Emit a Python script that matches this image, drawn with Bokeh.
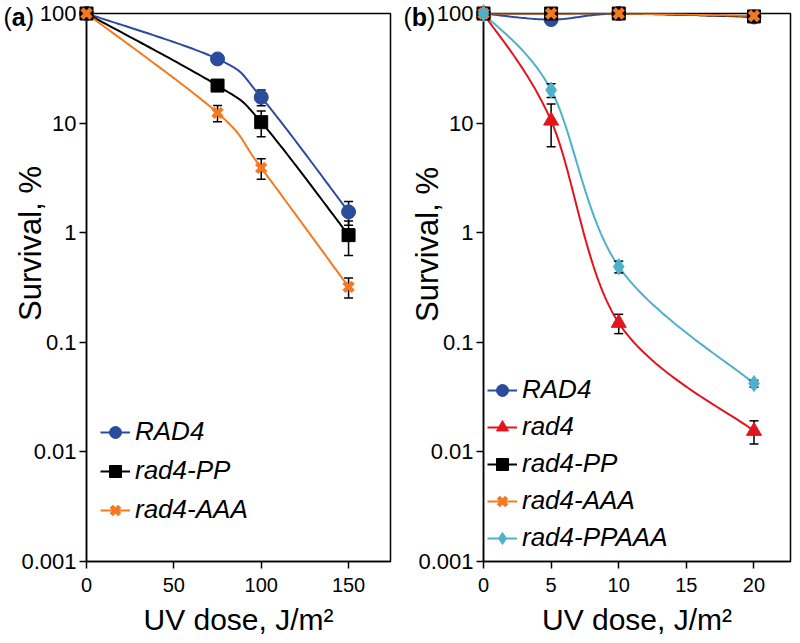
import numpy as np
from bokeh.plotting import figure
from bokeh.layouts import row
from bokeh.models import (Range1d, FixedTicker, CustomJSTickFormatter, Whisker, TeeHead,
                          ColumnDataSource, Legend, LegendItem)
from bokeh.core.properties import value
from bokeh.embed import file_html
from bokeh.resources import INLINE

FONT = "Liberation Sans"

# ---------------- data: panel (a) ----------------
dose_a = [0, 75, 100, 150]
a_RAD4 = [100, 38.5, 17.2, 1.55]
a_RAD4_err = [0, 3.0, 2.8, 0.38]
a_PP = [100, 22.0, 10.2, 0.95]
a_PP_err = [0, 2.5, 2.7, 0.33]
a_AAA = [100, 12.4, 3.9, 0.32]
a_AAA_err = [0, 2.1, 0.82, 0.067]

# ---------------- data: panel (b) ----------------
dose_b = [0, 5, 10, 20]
b_RAD4 = [100, 88, 100, 93]
b_RAD4_err = [0, 0, 0, 0]
b_rad4 = [100, 10.5, 0.15, 0.0155]
b_rad4_err = [0, 4.4, 0.03, 0.0037]
b_PP = [100, 100, 100, 94]
b_PP_err = [0, 0, 0, 0]
b_AAA = [100, 100, 100, 95]
b_AAA_err = [0, 0, 0, 0]
b_PPAAA = [100, 20.0, 0.49, 0.042]
b_PPAAA_err = [0, 2.9, 0.06, 0.003]

y_ticks = [0.001, 0.01, 0.1, 1, 10, 100]
x_ticks_a = [0, 50, 100, 150]
x_ticks_b = [0, 5, 10, 15, 20]

BLUE = "#2B4C9B"
RED = "#E3141E"
BLACK = "#000000"
ORANGE = "#F47A20"
CYAN = "#4FB0CC"

FRAME_H = 548


def smooth(xs, ys, kx, ky, n=40):
    """Excel-like smoothed line (Catmull-Rom Bezier) in screen-proportional space."""
    px = np.asarray(xs, float) * kx
    py = np.log10(np.asarray(ys, float)) * ky
    m = len(px)
    ox, oy = [], []
    for i in range(m - 1):
        i0, i3 = max(i - 1, 0), min(i + 2, m - 1)
        p1 = np.array([px[i], py[i]])
        p2 = np.array([px[i + 1], py[i + 1]])
        p0 = np.array([px[i0], py[i0]])
        p3 = np.array([px[i3], py[i3]])
        c1 = p1 + (p2 - p0) / 6.0
        c2 = p2 - (p3 - p1) / 6.0
        t = np.linspace(0, 1, n, endpoint=(i == m - 2))
        b = ((1 - t) ** 3)[:, None] * p1 + (3 * (1 - t) ** 2 * t)[:, None] * c1 \
            + (3 * (1 - t) * t ** 2)[:, None] * c2 + (t ** 3)[:, None] * p2
        ox.extend(b[:, 0])
        oy.extend(b[:, 1])
    return list(np.array(ox) / kx), list(10 ** (np.array(oy) / ky))


def add_text(p, txt, dx, dy, size, style="normal", angle=0.0, align="left"):
    # text anchored at the frame's top-left corner, shifted in screen pixels
    p.text(x=[0], y=[100], text=[txt], x_offset=dx, y_offset=dy, angle=angle,
           text_align=align, text_baseline="middle", text_font=value(FONT),
           text_font_size=value(size), text_font_style=style, text_color="black",
           level="overlay")


def make_panel(letter, letter_w, doses, series, xmax, xticks, frame_w, left_b, right_b,
               leg_loc, leg_glyph_w, leg_spacing, ylab_dx, ylab_dy, letter_dx):
    p = figure(width=left_b + frame_w + right_b, height=643,
               x_range=Range1d(0, xmax), y_range=Range1d(0.001, 100),
               y_axis_type="log", output_backend="svg", toolbar_location=None,
               min_border_left=left_b, min_border_right=right_b,
               min_border_top=13, min_border_bottom=643 - 13 - FRAME_H)
    p.grid.visible = False
    p.outline_line_color = "black"
    p.outline_line_width = 1.5
    p.background_fill_color = "white"
    p.border_fill_color = "white"

    kx = frame_w / xmax
    ky = FRAME_H / 5.0
    items = []
    for name, ys, errs, color, marker, size, lw in series:
        sx, sy = smooth(doses, ys, kx, ky)
        lr = p.line(sx, sy, line_color=color, line_width=2)
        idx = [i for i, e in enumerate(errs) if e > 0]
        if idx:
            src = ColumnDataSource(dict(
                x=[doses[i] for i in idx],
                upper=[ys[i] + errs[i] for i in idx],
                lower=[ys[i] - errs[i] for i in idx]))
            w = Whisker(base="x", upper="upper", lower="lower", source=src,
                        dimension="height", line_color="black", line_width=1.5,
                        upper_head=TeeHead(size=9, line_width=1.5, line_color="black"),
                        lower_head=TeeHead(size=9, line_width=1.5, line_color="black"),
                        level="glyph")
            p.add_layout(w)
        if marker == "x":
            sr = p.scatter(doses, ys, marker="x", size=size, line_color=color,
                           line_width=lw, level="overlay")
        else:
            sr = p.scatter(doses, ys, marker=marker, size=size, fill_color=color,
                           line_color=color, line_width=1, level="overlay")
        items.append(LegendItem(label=name, renderers=[lr, sr]))

    leg = Legend(items=items, location=leg_loc, orientation="vertical")
    leg.label_text_font = FONT
    leg.label_text_font_style = "italic"
    leg.label_text_font_size = "26px"
    leg.label_text_color = "black"
    leg.glyph_width = leg_glyph_w
    leg.glyph_height = 30
    leg.label_height = 30
    leg.spacing = leg_spacing
    leg.padding = 0
    leg.margin = 0
    leg.label_standoff = 5
    leg.border_line_alpha = 0
    leg.background_fill_alpha = 0
    p.add_layout(leg)

    # axes
    for ax in (p.xaxis[0], p.yaxis[0]):
        ax.axis_line_color = "black"
        ax.axis_line_width = 1.5
        ax.major_tick_line_color = "black"
        ax.major_tick_line_width = 1.5
        ax.major_tick_in = 0
        ax.major_tick_out = 7
        ax.minor_tick_line_color = None
        ax.major_label_text_font = FONT
        ax.major_label_text_color = "black"
    p.yaxis[0].major_label_text_font_size = "22px"
    p.yaxis[0].major_label_standoff = 3
    p.xaxis[0].major_label_text_font_size = "20px"
    p.xaxis[0].major_label_standoff = 9
    p.yaxis[0].ticker = FixedTicker(ticks=y_ticks)
    p.yaxis[0].formatter = CustomJSTickFormatter(code="return tick.toString();")
    p.xaxis[0].ticker = FixedTicker(ticks=xticks)
    p.xaxis[0].axis_label = "UV dose, J/m\u00b2"
    p.xaxis[0].axis_label_text_font = FONT
    p.xaxis[0].axis_label_text_font_style = "normal"
    p.xaxis[0].axis_label_text_font_size = "30px"
    p.xaxis[0].axis_label_text_color = "black"
    p.xaxis[0].axis_label_standoff = 8

    # y-axis title, placed above the frame centre as in the original
    add_text(p, "Survival, %", ylab_dx, ylab_dy, "31px", angle=np.pi / 2, align="center")

    # panel letter "(a)" with a bold letter
    add_text(p, "(", letter_dx, 3, "25px")
    add_text(p, letter, letter_dx + 8.3, 3, "25px", style="bold")
    add_text(p, ")", letter_dx + 8.3 + letter_w, 3, "25px")
    return p


series_a = [
    ("RAD4", a_RAD4, a_RAD4_err, BLUE, "circle", 14, 1),
    ("rad4-PP", a_PP, a_PP_err, BLACK, "square", 13, 1),
    ("rad4-AAA", a_AAA, a_AAA_err, ORANGE, "x", 13, 4.5),
]
series_b = [
    ("RAD4", b_RAD4, b_RAD4_err, BLUE, "circle", 14, 1),
    ("rad4", b_rad4, b_rad4_err, RED, "triangle", 15, 1),
    ("rad4-PP", b_PP, b_PP_err, BLACK, "square", 13, 1),
    ("rad4-AAA", b_AAA, b_AAA_err, ORANGE, "x", 13, 4.5),
    ("rad4-PPAAA", b_PPAAA, b_PPAAA_err, CYAN, "diamond", 16, 1),
]

pa = make_panel("a", 13.9, dose_a, series_a, 174, x_ticks_a, 304, 86, 10,
                (14, 36), 30, 8, -56.5, 230, -83)
pb = make_panel("b", 15.3, dose_b, series_b, 22.7, x_ticks_b, 307, 83, 10,
                (4, 8), 30, 6, -56, 231, -80)

layout = row(pa, pb)
open("out.html", "w").write(file_html(layout, INLINE))
